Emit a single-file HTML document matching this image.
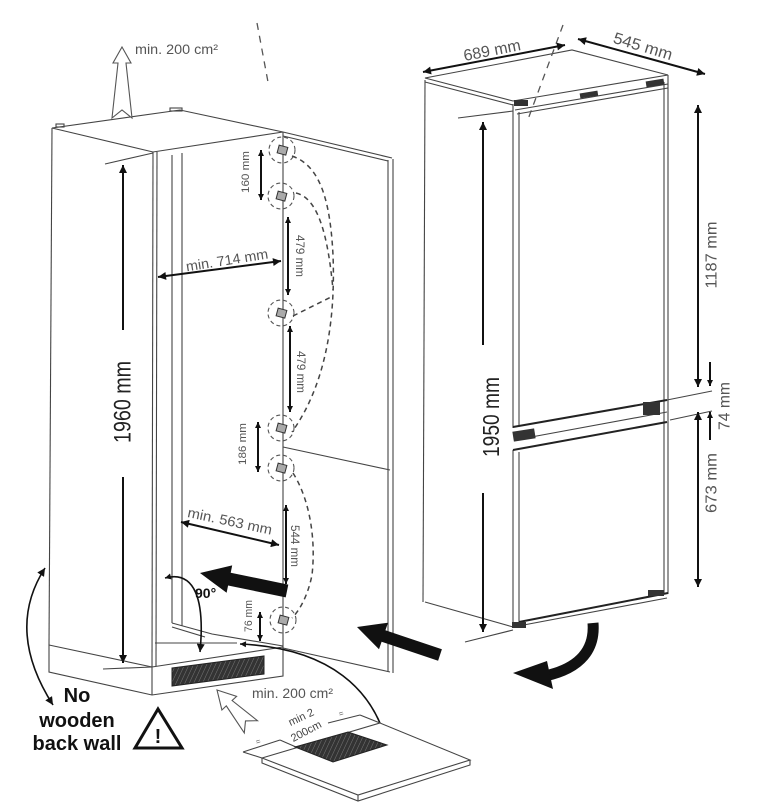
<!DOCTYPE html>
<html><head><meta charset="utf-8"><style>
html,body{margin:0;padding:0;background:#fff;}
svg{display:block;}
text{font-family:"Liberation Sans",Arial,sans-serif;}
</style></head><body>
<svg width="758" height="806" viewBox="0 0 758 806" xmlns="http://www.w3.org/2000/svg">
<defs>
<marker id="a" viewBox="0 0 10 10" refX="10" refY="5" markerWidth="9" markerHeight="8" markerUnits="userSpaceOnUse" orient="auto-start-reverse"><path d="M0,0 L10,5 L0,10 z" fill="#111"/></marker>
<marker id="s" viewBox="0 0 10 10" refX="10" refY="5" markerWidth="7" markerHeight="6" markerUnits="userSpaceOnUse" orient="auto-start-reverse"><path d="M0,0 L10,5 L0,10 z" fill="#111"/></marker>
<pattern id="h" width="4" height="4" patternUnits="userSpaceOnUse" patternTransform="rotate(25)"><rect width="4" height="4" fill="#333"/><line x1="0" y1="0" x2="0" y2="4" stroke="#777" stroke-width="1"/></pattern>
</defs>
<rect width="758" height="806" fill="#fff"/>

<!-- LEFT CABINET outlines -->
<g fill="none" stroke="#444" stroke-width="1.1">
  <polygon points="52,128 180,110 283,132 153,152"/>
  <line x1="52" y1="128" x2="49" y2="645"/>
  <line x1="153" y1="152" x2="152" y2="667"/>
  <line x1="157" y1="152" x2="156" y2="666"/>
  <line x1="172" y1="155" x2="172" y2="623"/>
  <line x1="182" y1="153" x2="182" y2="626"/>
  <polyline points="172,623 212,634 283,646"/>
  <line x1="172" y1="627" x2="205" y2="637"/>
  <line x1="155" y1="643" x2="237" y2="643"/>
  <polyline points="49,645 152,667 283,647"/>
  <polyline points="49,645 49,672 152,695 283,676 283,647"/>
  <line x1="152" y1="667" x2="152" y2="695"/>
  <line x1="283" y1="132" x2="283" y2="648"/>
  <line x1="283" y1="132" x2="392" y2="158"/>
  <line x1="283" y1="136" x2="388" y2="161"/>
  <line x1="388" y1="160" x2="388" y2="672"/>
  <line x1="393" y1="159" x2="393" y2="673"/>
  <line x1="283" y1="648" x2="390" y2="672"/>
  <line x1="283" y1="447" x2="390" y2="470"/>
  <line x1="105" y1="164" x2="153" y2="153"/>
  <line x1="103" y1="669" x2="152" y2="667"/>
  <rect x="56" y="124" width="8" height="3"/>
  <rect x="170" y="108" width="12" height="3"/>
</g>

<polygon points="172,668 264,656 264,674 172,686" fill="url(#h)" stroke="#222" stroke-width="1"/>

<line x1="257" y1="23" x2="268" y2="82" stroke="#555" stroke-width="1.3" stroke-dasharray="7,6"/>

<polygon points="122,47 131,63 126,63 132,118 122,110 112,118 118,63 113,63" fill="#fff" stroke="#555" stroke-width="1.1"/>
<text x="135" y="54" font-size="14" fill="#555" textLength="83" lengthAdjust="spacingAndGlyphs">min. 200 cm²</text>

<g fill="none" stroke="#555" stroke-width="1.1" stroke-dasharray="4,3">
  <circle cx="282" cy="150" r="13"/>
  <circle cx="281" cy="196" r="13"/>
  <circle cx="281" cy="313" r="13"/>
  <circle cx="281" cy="428" r="13"/>
  <circle cx="281" cy="468" r="13"/>
  <circle cx="283" cy="620" r="13"/>
</g>
<g fill="#aaa" stroke="#333" stroke-width="1">
  <rect x="278" y="146" width="9" height="8" transform="rotate(15 282 150)"/>
  <rect x="277" y="192" width="9" height="8" transform="rotate(15 281 196)"/>
  <rect x="277" y="309" width="9" height="8" transform="rotate(15 281 313)"/>
  <rect x="277" y="424" width="9" height="8" transform="rotate(15 281 428)"/>
  <rect x="277" y="464" width="9" height="8" transform="rotate(15 281 468)"/>
  <rect x="279" y="616" width="9" height="8" transform="rotate(15 283 620)"/>
</g>

<g fill="none" stroke="#444" stroke-width="1.5" stroke-dasharray="5,4">
  <path d="M292,156 C318,165 330,195 333,255 C336,330 322,390 292,432"/>
  <path d="M296,193 C318,198 328,235 333,290"/>
  <path d="M293,316 L333,296"/>
  <path d="M293,473 C310,500 316,540 312,575 C308,595 300,610 292,618"/>
</g>

<g stroke="#111" stroke-width="2" fill="none">
  <line x1="123" y1="165" x2="123" y2="330" marker-start="url(#a)"/>
  <line x1="123" y1="477" x2="123" y2="663" marker-end="url(#a)"/>
  <line x1="261" y1="150" x2="261" y2="200" marker-start="url(#s)" marker-end="url(#s)"/>
  <line x1="288" y1="217" x2="288" y2="295" marker-start="url(#s)" marker-end="url(#s)"/>
  <line x1="290" y1="326" x2="290" y2="412" marker-start="url(#s)" marker-end="url(#s)"/>
  <line x1="258" y1="422" x2="258" y2="472" marker-start="url(#s)" marker-end="url(#s)"/>
  <line x1="286" y1="505" x2="286" y2="584" marker-start="url(#s)" marker-end="url(#s)"/>
  <line x1="260" y1="612" x2="260" y2="641" marker-start="url(#s)" marker-end="url(#s)"/>
  <line x1="158" y1="277" x2="281" y2="261" marker-start="url(#a)" marker-end="url(#a)"/>
  <line x1="181" y1="522" x2="279" y2="545" marker-start="url(#a)" marker-end="url(#a)"/>
</g>
<g stroke="#111" fill="none" stroke-width="1.6">
  <path d="M45,568 Q5,630 53,705" marker-start="url(#a)" marker-end="url(#a)"/>
  <path d="M165,578 C195,570 205,600 200,652" marker-start="url(#s)" marker-end="url(#a)"/>
  <path d="M240,644 C330,648 375,690 388,748" marker-start="url(#s)" marker-end="url(#a)"/>
</g>

<text transform="translate(122,402) rotate(-90)" text-anchor="middle" dy="0.35em" font-size="24" fill="#222" textLength="82" lengthAdjust="spacingAndGlyphs">1960 mm</text>
<g fill="#555" text-anchor="middle">
  <text transform="translate(245,172) rotate(-90)" dy="0.35em" font-size="11" textLength="42" lengthAdjust="spacingAndGlyphs">160 mm</text>
  <text transform="translate(300,256) rotate(90)" dy="0.35em" font-size="12" textLength="42" lengthAdjust="spacingAndGlyphs">479 mm</text>
  <text transform="translate(301,372) rotate(90)" dy="0.35em" font-size="12" textLength="42" lengthAdjust="spacingAndGlyphs">479 mm</text>
  <text transform="translate(242,444) rotate(-90)" dy="0.35em" font-size="11" textLength="42" lengthAdjust="spacingAndGlyphs">186 mm</text>
  <text transform="translate(295,546) rotate(90)" dy="0.35em" font-size="12" textLength="42" lengthAdjust="spacingAndGlyphs">544 mm</text>
  <text transform="translate(248,616) rotate(-90)" dy="0.35em" font-size="11" textLength="32" lengthAdjust="spacingAndGlyphs">76 mm</text>
  <text transform="translate(227,260) rotate(-9)" dy="0.35em" font-size="14" textLength="83" lengthAdjust="spacingAndGlyphs">min. 714 mm</text>
  <text transform="translate(230,521) rotate(12)" dy="0.35em" font-size="14" textLength="86" lengthAdjust="spacingAndGlyphs">min. 563 mm</text>
</g>
<text x="195" y="598" font-size="14" font-weight="bold" fill="#111">90°</text>

<polygon points="200,573 232.2,565.4 230.7,572.7 288.3,584.6 285.7,597.4 228.1,585.5 226.6,592.8" fill="#111"/>
<polygon points="357,627 388,622.7 385.4,630.3 441.9,649.3 438.1,660.7 381.6,641.7 379,649.3" fill="#111"/>
<path d="M593,623 C595,648 582,668 545,676" fill="none" stroke="#111" stroke-width="11"/>
<polygon points="513,673 547,661 553,689" fill="#111"/>

<polygon points="217,690 236.6,696.4 232.1,700.5 257.5,720.7 245.5,720.9 244.3,732.9 226.3,705.9 221.9,710" fill="#fff" stroke="#555" stroke-width="1.1"/>
<text x="252" y="698" font-size="14" fill="#555" textLength="81" lengthAdjust="spacingAndGlyphs">min. 200 cm²</text>

<g font-weight="bold" font-size="20" fill="#111" text-anchor="middle">
  <text x="77" y="702">No</text>
  <text x="77" y="727">wooden</text>
  <text x="77" y="750">back wall</text>
</g>
<polygon points="158,709 135,748 182,748" fill="#fff" stroke="#111" stroke-width="3" stroke-linejoin="miter"/>
<text x="158" y="743" font-size="20" font-weight="bold" text-anchor="middle" fill="#111">!</text>

<g fill="none" stroke="#444" stroke-width="1.1">
  <polygon points="262,758 380,723 470,760 358,795" fill="#fff"/>
  <polyline points="262,758 262,763 358,801 470,765 470,760"/>
  <line x1="358" y1="795" x2="358" y2="801"/>
  <line x1="243" y1="752" x2="280" y2="740"/>
  <line x1="280" y1="740" x2="296" y2="747"/>
  <line x1="243" y1="752" x2="262" y2="758"/>
  <line x1="328" y1="723" x2="360" y2="715"/>
  <line x1="360" y1="715" x2="380" y2="723"/>
</g>
<polygon points="295,747 348,732 387,745 333,762" fill="url(#h)" stroke="#222" stroke-width="1"/>
<g fill="#555" font-size="8" text-anchor="middle">
  <text x="259" y="744" transform="rotate(-18 259 744)">=</text>
  <text x="342" y="716" transform="rotate(-18 342 716)">=</text>
</g>
<g fill="#444" font-size="11" text-anchor="middle">
  <text transform="translate(301,717) rotate(-25)" dy="0.35em">min 2</text>
  <text transform="translate(306,731) rotate(-28)" dy="0.35em">200cm</text>
</g>

<g fill="none" stroke="#444" stroke-width="1.1">
  <line x1="425" y1="80" x2="423" y2="602"/>
  <polygon points="425,78 572,50 668,75 513,101"/>
  <line x1="425" y1="82" x2="513" y2="105"/>
  <line x1="668" y1="75" x2="668" y2="594"/>
  <line x1="664" y1="82" x2="664" y2="594"/>
  <line x1="515" y1="110" x2="668" y2="84"/>
  <line x1="517" y1="114" x2="668" y2="88"/>
  <line x1="513" y1="104" x2="513" y2="428"/>
  <line x1="519" y1="112" x2="519" y2="427"/>
  <line x1="513" y1="450" x2="513" y2="627"/>
  <line x1="519" y1="452" x2="519" y2="622"/>
  <line x1="425" y1="602" x2="513" y2="627"/>
  <line x1="513" y1="627" x2="667" y2="598"/>
  <line x1="515" y1="440" x2="667" y2="412"/>
  <line x1="458" y1="118" x2="513" y2="111"/>
  <line x1="465" y1="642" x2="513" y2="630"/>
  <line x1="667" y1="400" x2="712" y2="391"/>
  <line x1="670" y1="420" x2="712" y2="411"/>
</g>
<g stroke="#222" stroke-width="2" fill="none">
  <line x1="513" y1="427" x2="667" y2="400"/>
  <line x1="513" y1="450" x2="667" y2="422"/>
  <line x1="519" y1="622" x2="668" y2="593"/>
</g>
<g fill="#333">
  <rect x="514" y="100" width="14" height="6"/>
  <rect x="580" y="92" width="18" height="5" transform="rotate(-9 589 95)"/>
  <rect x="646" y="80" width="18" height="6" transform="rotate(-9 655 83)"/>
  <rect x="643" y="402" width="17" height="13"/>
  <rect x="513" y="430" width="22" height="10" transform="rotate(-9 524 435)"/>
  <rect x="648" y="590" width="16" height="6"/>
  <rect x="512" y="622" width="14" height="6"/>
</g>
<line x1="563" y1="25" x2="527" y2="122" stroke="#555" stroke-width="1.3" stroke-dasharray="7,6"/>

<g stroke="#111" stroke-width="2" fill="none">
  <line x1="423" y1="72" x2="565" y2="45" marker-start="url(#a)" marker-end="url(#a)"/>
  <line x1="578" y1="39" x2="705" y2="74" marker-start="url(#a)" marker-end="url(#a)"/>
  <line x1="483" y1="122" x2="483" y2="345" marker-start="url(#a)"/>
  <line x1="483" y1="493" x2="483" y2="632" marker-end="url(#a)"/>
  <line x1="698" y1="105" x2="698" y2="387" marker-start="url(#a)" marker-end="url(#a)"/>
  <line x1="710" y1="362" x2="710" y2="386" marker-end="url(#s)"/>
  <line x1="710" y1="440" x2="710" y2="412" marker-end="url(#s)"/>
  <line x1="698" y1="412" x2="698" y2="587" marker-start="url(#a)" marker-end="url(#a)"/>
</g>
<text transform="translate(491,417) rotate(-90)" text-anchor="middle" dy="0.35em" font-size="23" fill="#222" textLength="80" lengthAdjust="spacingAndGlyphs">1950 mm</text>
<g fill="#555" text-anchor="middle">
  <text transform="translate(492,50) rotate(-11)" dy="0.35em" font-size="16" textLength="58" lengthAdjust="spacingAndGlyphs">689 mm</text>
  <text transform="translate(643,46) rotate(17)" dy="0.35em" font-size="16" textLength="61" lengthAdjust="spacingAndGlyphs">545 mm</text>
  <text transform="translate(711,255) rotate(-90)" dy="0.35em" font-size="16" textLength="67" lengthAdjust="spacingAndGlyphs">1187 mm</text>
  <text transform="translate(724,406) rotate(-90)" dy="0.35em" font-size="16" textLength="48" lengthAdjust="spacingAndGlyphs">74 mm</text>
  <text transform="translate(711,483) rotate(-90)" dy="0.35em" font-size="16" textLength="60" lengthAdjust="spacingAndGlyphs">673 mm</text>
</g>
</svg>
</body></html>
